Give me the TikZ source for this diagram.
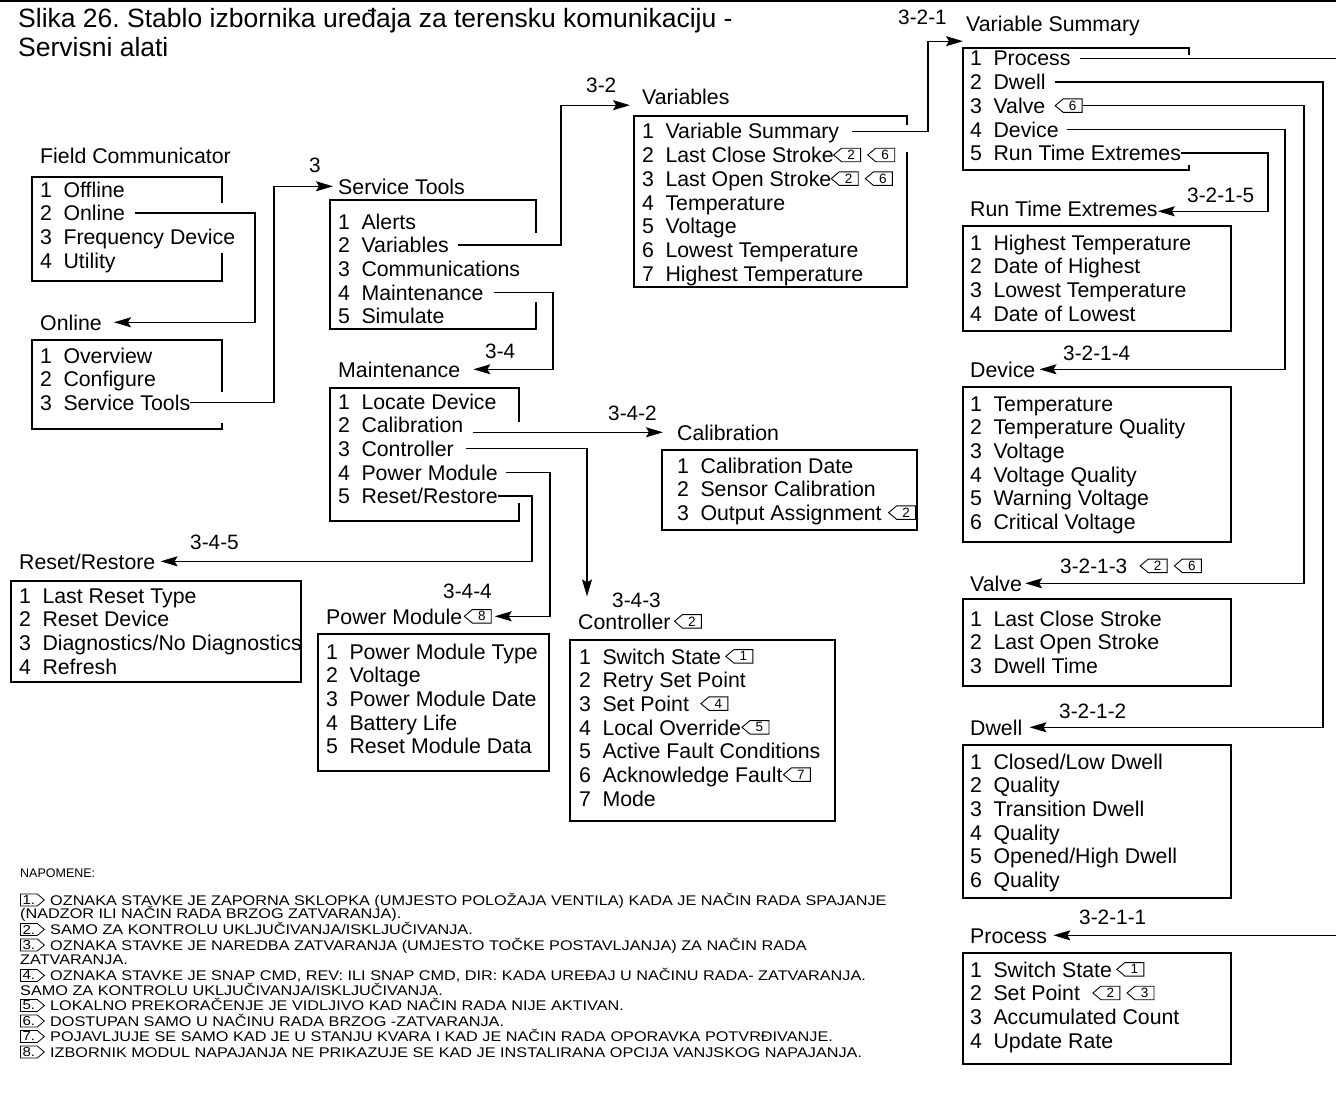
\documentclass[tikz,border=0pt]{standalone}
\usepackage{fontspec}
\setmainfont{Liberation Sans}
\newfontfamily\notefont[FakeStretch=1.16]{Liberation Sans}
\usetikzlibrary{arrows.meta,shapes.symbols}
\newcommand\fs[1]{\fontsize{#1}{#1}\selectfont}
\newcommand\ilist[4]{\foreach \t [count=\i] in {#4}{\node[it] (#1\i) at (#2,{#3+23.67*(\i-1)}) {\i\hspace{0.54em}\t};}}
\begin{document}
\frenchspacing
\begin{tikzpicture}[x=1pt,y=-1pt,
  it/.style={anchor=base west,inner sep=0pt,text height=15.4pt,text depth=0pt,font=\fs{21.3}},
  lb/.style={anchor=base west,inner sep=0pt,font=\fs{20.8}},
  bx/.style={line width=1.3pt},
  ar/.style={line width=1.3pt,-{Stealth[length=17pt,width=10pt,inset=3pt]}},
  mk/.style={signal,signal to=west,signal pointer angle=80,draw,line width=0.9pt,inner sep=0pt,minimum height=13.5pt,minimum width=27pt,font=\fs{13.5},anchor=west},
  nmk/.style={signal,signal to=east,signal pointer angle=80,draw,line width=0.8pt,inner sep=0pt,minimum height=12pt,minimum width=24pt,font=\notefont\fs{13},anchor=west},
  nt/.style={anchor=base west,inner sep=0pt,font=\notefont\fs{14}},
  tt/.style={anchor=base west,inner sep=0pt,font=\fs{26.5}},
]
\useasboundingbox (0,0) rectangle (1336,1097);
\draw[line width=1.5pt] (0,1) -- (1336,1);

% title
\node[tt] (t1) at (18,28) {Slika 26. Stablo izbornika uređaja za terensku komunikaciju -};
\node[tt] (t2) at (18,57) {Servisni alati};

% menu titles
\node[it] (fcT) at (40,164) {Field Communicator};
\node[it] (olT) at (40,330) {Online};
\node[it] (stT) at (338,194) {Service Tools};
\node[it] (mtT) at (338,377) {Maintenance};
\node[it] (varT) at (642,105) {Variables};
\node[it] (vsT) at (966,32) {Variable Summary};
\node[it] (rteT) at (970,216) {Run Time Extremes};
\node[it] (devT) at (970,377) {Device};
\node[it] (valT) at (970,591) {Valve};
\node[it] (dwT) at (970,735) {Dwell};
\node[it] (prT) at (970,943) {Process};
\node[it] (calT) at (677,440) {Calibration};
\node[it] (rrT) at (19,569) {Reset/Restore};
\node[it] (pmT) at (326,624) {Power Module};
\node[it] (ctlT) at (578,629) {Controller};

% items
\ilist{fc}{40}{197}{Offline,Online,Frequency Device,Utility}
\ilist{ol}{40}{363}{Overview,Configure,Service Tools}
\ilist{st}{338}{229}{Alerts,Variables,Communications,Maintenance,Simulate}
\ilist{mt}{338}{409}{Locate Device,Calibration,Controller,Power Module,Reset/Restore}
\ilist{var}{642}{139}{Variable Summary,Last Close Stroke,Last Open Stroke,Temperature,Voltage,Lowest Temperature,Highest Temperature}
\ilist{vs}{970}{66}{Process,Dwell,Valve,Device,Run Time Extremes}
\ilist{rte}{970}{250}{Highest Temperature,Date of Highest,Lowest Temperature,Date of Lowest}
\ilist{dev}{970}{411}{Temperature,Temperature Quality,Voltage,Voltage Quality,Warning Voltage,Critical Voltage}
\ilist{val}{970}{626}{Last Close Stroke,Last Open Stroke,Dwell Time}
\ilist{dw}{970}{769}{Closed/Low Dwell,Quality,Transition Dwell,Quality,Opened/High Dwell,Quality}
\ilist{pr}{970}{977}{Switch State,Set Point,Accumulated Count,Update Rate}
\ilist{cal}{677}{473}{Calibration Date,Sensor Calibration,Output Assignment}
\ilist{rr}{19}{603}{Last Reset Type,Reset Device,Diagnostics/No Diagnostics,Refresh}
\ilist{pm}{326}{659}{Power Module Type,Voltage,Power Module Date,Battery Life,Reset Module Data}
\ilist{ctl}{579}{664}{Switch State,Retry Set Point,Set Point,Local Override,Active Fault Conditions,Acknowledge Fault,Mode}

% boxes
\draw[bx] (222,203) -- (222,177) -- (32,177) -- (32,281) -- (222,281) -- (222,253);
\draw[bx] (222,392) -- (222,340) -- (32,340) -- (32,429) -- (222,429) -- (222,423);
\draw[bx] (536,233) -- (536,200) -- (330,200) -- (330,329) -- (536,329) -- (536,302);
\draw[bx] (519,422) -- (519,388) -- (330,388) -- (330,521) -- (519,521) -- (519,503);
\draw[bx] (907,125) -- (907,116) -- (634,116) -- (634,287) -- (907,287) -- (907,152);
\draw[bx] (1189,55) -- (1189,48) -- (963,48) -- (963,170) -- (1189,170) -- (1189,165);
\draw[bx] (963,226) rectangle (1231,331);
\draw[bx] (963,387) rectangle (1231,542);
\draw[bx] (963,599) rectangle (1231,686);
\draw[bx] (963,745) rectangle (1231,898);
\draw[bx] (963,953) rectangle (1231,1064);
\draw[bx] (662,450) rectangle (917,530);
\draw[bx] (11,581) rectangle (301,682);
\draw[bx] (318,634) rectangle (549,771);
\draw[bx] (570,640) rectangle (835,821);

% path labels
\node[lb] (l3) at (309,172) {3};
\node[lb] (l32) at (586,93) {3-2};
\node[lb] (l34) at (485,358) {3-4};
\node[lb] (l342) at (608,420) {3-4-2};
\node[lb] (l343) at (612,607) {3-4-3};
\node[lb] (l344) at (443,598) {3-4-4};
\node[lb] (l345) at (190,549) {3-4-5};
\node[lb] (l321) at (898,25) {3-2-1};
\node[lb] (l3215) at (1187,202) {3-2-1-5};
\node[lb] (l3214) at (1063,360) {3-2-1-4};
\node[lb] (l3213) at (1060,573) {3-2-1-3};
\node[lb] (l3212) at (1059,718) {3-2-1-2};
\node[lb] (l3211) at (1079,924) {3-2-1-1};

% note markers in the tree
\node[mk] (var2a) at ([xshift=-1pt]var2.east) {2};
\node[mk] (var2b) at ([xshift=6pt]var2a.east) {6};
\node[mk] (var3a) at ([xshift=-1pt]var3.east) {2};
\node[mk] (var3b) at ([xshift=6pt]var3a.east) {6};
\node[mk] (vsM) at ([xshift=9pt]vs3.east) {6};
\node[mk] (calM) at ([xshift=6pt]cal3.east) {2};
\node[mk] (pmM) at ([xshift=1pt]pmT.east) {8};
\node[mk] (ctlM) at ([xshift=3pt]ctlT.east) {2};
\node[mk] (ctl1M) at ([xshift=4pt]ctl1.east) {1};
\node[mk] (ctl3M) at ([xshift=11pt]ctl3.east) {4};
\node[mk] (ctl4M) at ([xshift=0pt]ctl4.east) {5};
\node[mk] (ctl6M) at ([xshift=0pt]ctl6.east) {7};
\node[mk] (pr1M) at ([xshift=4pt]pr1.east) {1};
\node[mk] (pr2a) at ([xshift=12pt]pr2.east) {2};
\node[mk] (pr2b) at ([xshift=6pt]pr2a.east) {3};
\node[mk] (valLa) at ([xshift=12pt]l3213.east) {2};
\node[mk] (valLb) at ([xshift=6pt]valLa.east) {6};

% connectors
\draw[ar] ([xshift=10pt]fc2.east) -- (fc2.east -| 255,0) |- ([xshift=12pt]olT.east);
\draw[ar] (ol3.east) -- (ol3.east -| 274,0) |- ([xshift=-5pt]stT.west);
\draw[ar] ([xshift=9pt]st2.east) -- (st2.east -| 561,0) |- ([xshift=-12pt]varT.south west);
\draw[ar] ([xshift=10pt]st4.east) -- (st4.east -| 553,0) |- ([xshift=13pt]mtT.east);
\draw[ar] ([xshift=9pt]mt2.east |- calT.east) -- ([xshift=-14pt]calT.west);
\draw[ar] ([xshift=12pt]mt3.east) -| ([xshift=9pt,yshift=17pt]ctlT.north west);
\draw[ar] ([xshift=8pt]mt4.east) -- (mt4.east -| 550,0) |- ([xshift=3pt]pmM.east);
\draw[ar] (mt5.east) -- (mt5.east -| 532,0) |- ([xshift=5pt]rrT.east);
\draw[ar] ([xshift=13pt]var1.east) -- (var1.east -| 928,0) |- ([xshift=-3pt,yshift=-9pt]vsT.south west);
\draw[ar] ([xshift=9pt]vs1.east) -- (vs1.east -| 1337.5,0) |- ([xshift=6pt]prT.east);
\draw[ar] ([xshift=9pt]vs2.east) -- (vs2.east -| 1323,0) |- ([xshift=7pt]dwT.east);
\draw[ar] (vsM.east) -- (vsM.east -| 1304,0) |- ([xshift=3pt]valT.east);
\draw[ar] ([xshift=8pt]vs4.east) -- (vs4.east -| 1285,0) |- ([xshift=4pt]devT.east);
\draw[ar] (vs5.east) -- (vs5.east -| 1268,0) |- ([xshift=0pt,yshift=-3pt]rteT.east);

% notes
\node[anchor=base west,inner sep=0pt,font=\fs{12.5}] (nap) at (20,877) {NAPOMENE:};
\node[nmk] (n1m) at (20,900) {1.};
\node[nt] (n1) at (50,905) {OZNAKA STAVKE JE ZAPORNA SKLOPKA (UMJESTO POLOŽAJA VENTILA) KADA JE NAČIN RADA SPAJANJE};
\node[nt] (n1b) at (20,918.5) {(NADZOR ILI NAČIN RADA BRZOG ZATVARANJA).};
\node[nmk] (n2m) at (20,929.5) {2.};
\node[nt] (n2) at (50,934.5) {SAMO ZA KONTROLU UKLJUČIVANJA/ISKLJUČIVANJA.};
\node[nmk] (n3m) at (20,945) {3.};
\node[nt] (n3) at (50,950) {OZNAKA STAVKE JE NAREDBA ZATVARANJA (UMJESTO TOČKE POSTAVLJANJA) ZA NAČIN RADA};
\node[nt] (n3b) at (20,964.5) {ZATVARANJA.};
\node[nmk] (n4m) at (20,975.5) {4.};
\node[nt] (n4) at (50,980.5) {OZNAKA STAVKE JE SNAP CMD, REV: ILI SNAP CMD, DIR: KADA UREĐAJ U NAČINU RADA- ZATVARANJA.};
\node[nt] (n4b) at (20,995) {SAMO ZA KONTROLU UKLJUČIVANJA/ISKLJUČIVANJA.};
\node[nmk] (n5m) at (20,1005.5) {5.};
\node[nt] (n5) at (50,1010.5) {LOKALNO PREKORAČENJE JE VIDLJIVO KAD NAČIN RADA NIJE AKTIVAN.};
\node[nmk] (n6m) at (20,1021) {6.};
\node[nt] (n6) at (50,1026) {DOSTUPAN SAMO U NAČINU RADA BRZOG -ZATVARANJA.};
\node[nmk] (n7m) at (20,1036.5) {7.};
\node[nt] (n7) at (50,1041.5) {POJAVLJUJE SE SAMO KAD JE U STANJU KVARA I KAD JE NAČIN RADA OPORAVKA POTVRĐIVANJE.};
\node[nmk] (n8m) at (20,1052) {8.};
\node[nt] (n8) at (50,1057) {IZBORNIK MODUL NAPAJANJA NE PRIKAZUJE SE KAD JE INSTALIRANA OPCIJA VANJSKOG NAPAJANJA.};
\end{tikzpicture}
\end{document}
